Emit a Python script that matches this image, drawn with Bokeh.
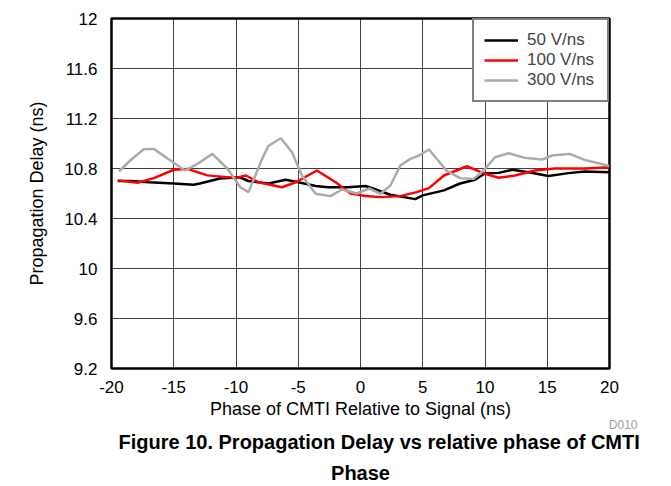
from bokeh.plotting import figure
from bokeh.models import Range1d, FixedTicker, NumeralTickFormatter, Title, Legend, LegendItem
from bokeh.embed import file_html
from bokeh.resources import INLINE

# ---- data ----
black_x = [-19.5, -18.5, -17.0, -15.0, -13.4, -12.9, -11.3, -9.7, -9.0, -7.4, -6.0, -5.0, -3.6,
           -2.6, -1.0, 0.4, 1.0, 2.4, 4.4, 5.0, 6.7, 8.0, 9.2, 10.0, 11.1, 12.2, 13.5, 15.1,
           16.7, 18.0, 20.0]
black_y = [10.70, 10.70, 10.69, 10.68, 10.67, 10.68, 10.72, 10.73, 10.70, 10.68, 10.71, 10.69, 10.66,
           10.65, 10.65, 10.66, 10.64, 10.59, 10.555, 10.585, 10.625, 10.68, 10.71, 10.76, 10.765,
           10.79, 10.77, 10.74, 10.763, 10.776, 10.77]

red_x = [-19.5, -17.9, -16.6, -15.0, -13.9, -12.3, -10.0, -9.2, -8.2, -6.3, -5.2, -3.5, -2.0,
         -0.8, 0.4, 1.6, 3.2, 4.5, 5.5, 6.7, 8.55, 10.0, 11.1, 12.4, 14.0, 15.6, 18.0, 20.0]
red_y = [10.705, 10.686, 10.723, 10.79, 10.797, 10.745, 10.725, 10.744, 10.69, 10.65, 10.69, 10.784,
         10.69, 10.60, 10.58, 10.571, 10.579, 10.611, 10.643, 10.744, 10.818, 10.757, 10.726,
         10.744, 10.784, 10.80, 10.80, 10.81]

gray_x = [-19.4, -18.5, -17.4, -16.6, -15.5, -14.1, -13.1, -11.9, -10.7, -9.65, -9.0, -7.9, -7.4,
          -6.4, -5.5, -4.7, -3.6, -2.4, -1.5, -0.3, 0.7, 1.6, 2.4, 3.2, 4.0, 4.7, 5.5, 6.9, 8.0,
          9.1, 10.0, 10.8, 11.9, 13.2, 14.6, 15.4, 16.8, 18.0, 20.0]
gray_y = [10.776, 10.864, 10.955, 10.957, 10.88, 10.784, 10.837, 10.917, 10.80, 10.65, 10.611,
          10.877, 10.98, 11.042, 10.93, 10.744, 10.598, 10.579, 10.632, 10.60, 10.64, 10.598,
          10.664, 10.824, 10.877, 10.904, 10.952, 10.784, 10.723, 10.717, 10.797, 10.89, 10.922,
          10.885, 10.872, 10.904, 10.917, 10.869, 10.82]

series_names = ["50 V/ns", "100 V/ns", "300 V/ns"]
series_colors = ["#000000", "#ff0000", "#aaaaaa"]

x_ticks = [-20, -15, -10, -5, 0, 5, 10, 15, 20]
x_tick_labels = ["-20", "-15", "-10", "-5", "0", "5", "10", "15", "20"]
y_ticks = [9.2, 9.6, 10, 10.4, 10.8, 11.2, 11.6, 12]
y_tick_labels = ["9.2", "9.6", "10", "10.4", "10.8", "11.2", "11.6", "12"]

FONT = "Liberation Sans"

p = figure(frame_width=498, frame_height=350,
           x_range=Range1d(-20, 20), y_range=Range1d(9.2, 12),
           min_border_left=111, min_border_right=62, min_border_top=18, min_border_bottom=0,
           output_backend="svg", toolbar_location=None)
p.background_fill_color = "white"
p.border_fill_color = "white"
p.outline_line_color = "black"
p.outline_line_width = 2.5

# grid
p.xgrid.ticker = FixedTicker(ticks=x_ticks)
p.ygrid.ticker = FixedTicker(ticks=y_ticks)
p.grid.grid_line_color = "#000000"
p.grid.grid_line_alpha = 0.75
p.grid.grid_line_width = 1

# axes
p.xaxis.ticker = FixedTicker(ticks=x_ticks)
p.yaxis.ticker = FixedTicker(ticks=y_ticks)
p.xaxis.formatter = NumeralTickFormatter(format="0")
p.yaxis.formatter = NumeralTickFormatter(format="0.[0]")
p.xaxis.major_label_overrides = {int(t): l for t, l in zip(x_ticks, x_tick_labels)}
p.yaxis.major_label_overrides = {float(t): l for t, l in zip(y_ticks, y_tick_labels)}
for ax in (p.xaxis, p.yaxis):
    ax.axis_line_color = None
    ax.major_tick_line_color = None
    ax.minor_tick_line_color = None
    ax.major_label_text_font = FONT
    ax.major_label_text_font_size = "17px"
    ax.major_label_text_color = "black"
    ax.axis_label_text_font = FONT
    ax.axis_label_text_font_size = "18px"
    ax.axis_label_text_font_style = "normal"
    ax.axis_label_text_color = "black"
p.xaxis.axis_label = "Phase of CMTI Relative to Signal (ns)"
p.yaxis.axis_label = "Propagation Delay (ns)"
p.xaxis.major_label_standoff = 6
p.xaxis.axis_label_standoff = 3
p.yaxis.major_label_standoff = 8
p.yaxis.axis_label_standoff = 14

# lines
r_black = p.line(black_x, black_y, line_color=series_colors[0], line_width=2.5)
r_red = p.line(red_x, red_y, line_color=series_colors[1], line_width=2.5)
r_gray = p.line(gray_x, gray_y, line_color=series_colors[2], line_width=2.5)

legend = Legend(items=[LegendItem(label=series_names[0], renderers=[r_black]),
                       LegendItem(label=series_names[1], renderers=[r_red]),
                       LegendItem(label=series_names[2], renderers=[r_gray])],
                location="top_right", margin=0, padding=10, spacing=0,
                glyph_width=34, glyph_height=20, label_height=20, label_width=70,
                label_standoff=9, label_text_font=FONT, label_text_font_size="17px",
                border_line_color="black", border_line_width=2,
                background_fill_color="white", background_fill_alpha=1.0)
p.add_layout(legend, "center")

# texts below the axis
t_id = Title(text="D010", align="right", offset=-28, text_font=FONT, text_font_size="12px",
             text_color="#a0a0a0", text_font_style="normal", standoff=-20)
cap1 = Title(text="Figure 10. Propagation Delay vs relative phase of CMTI", align="left",
             offset=7, text_font=FONT, text_font_size="20px", text_font_style="bold",
             text_color="black", standoff=14)
cap2 = Title(text="Phase", align="center", text_font=FONT, text_font_size="20px",
             text_font_style="bold", text_color="black", standoff=0)
p.add_layout(t_id, "below")
p.add_layout(cap1, "below")
p.add_layout(cap2, "below")

open("out.html", "w").write(file_html(p, INLINE))
